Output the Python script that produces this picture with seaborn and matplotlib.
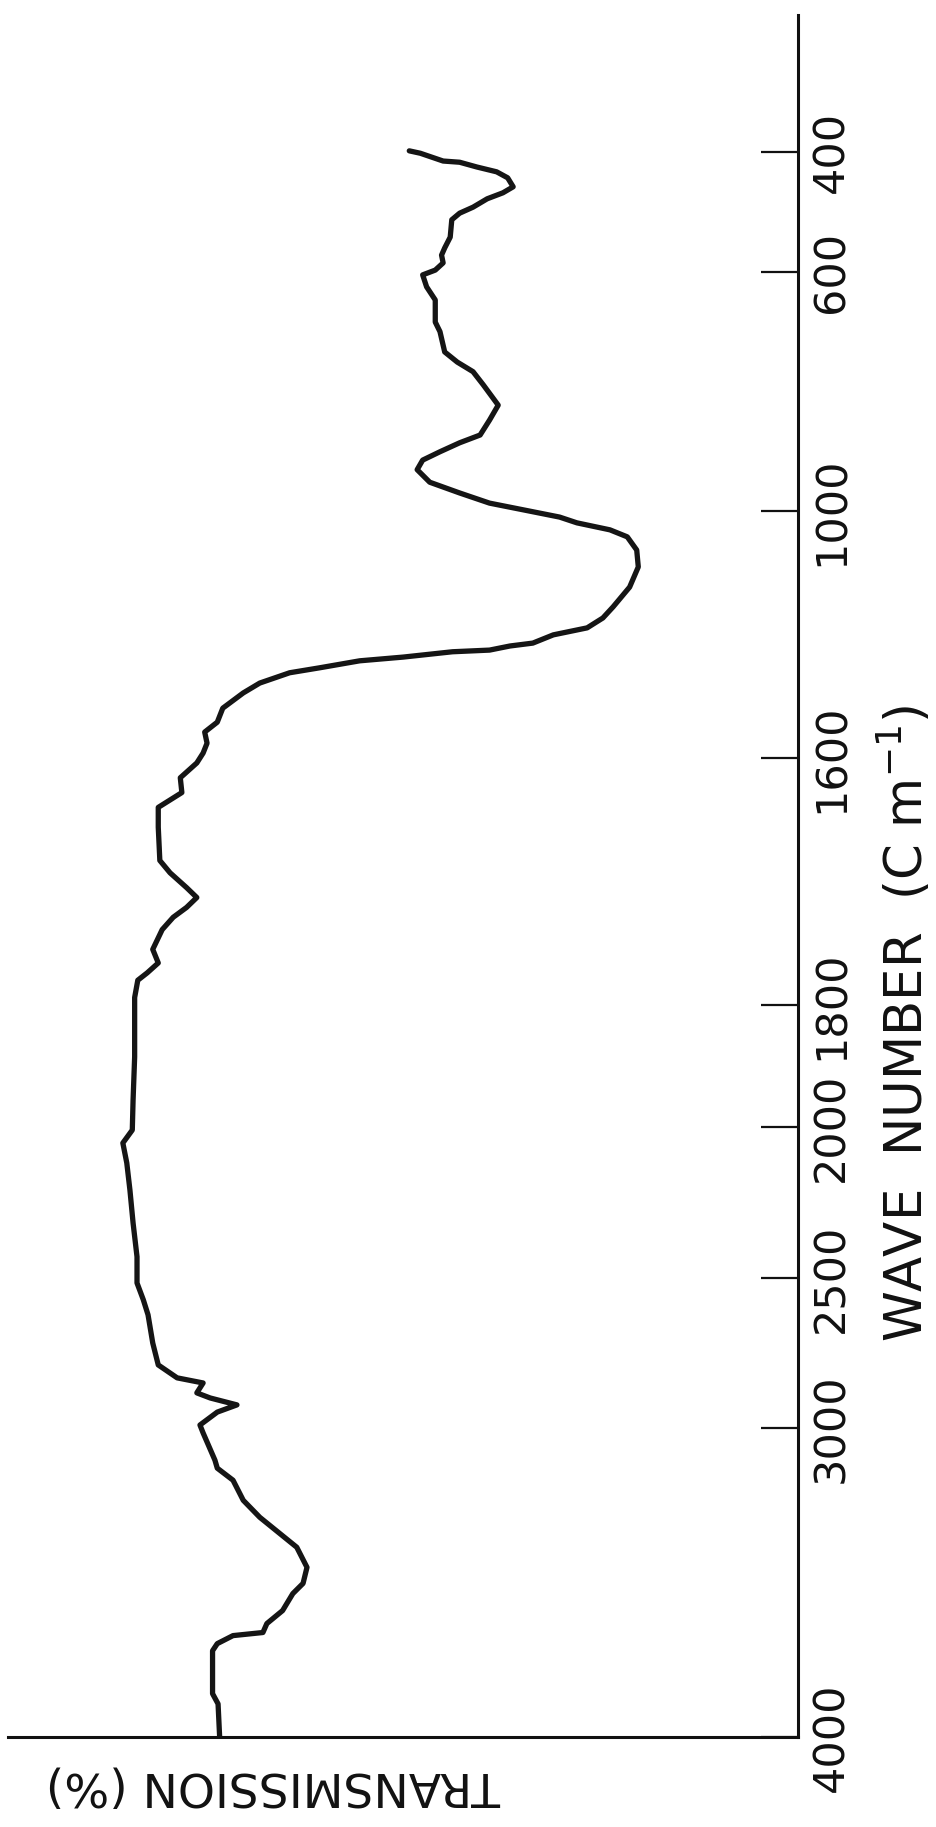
import numpy as np
import matplotlib
matplotlib.use("Agg")
import matplotlib.pyplot as plt
import seaborn as sns

# IR spectrum: wave number (cm-1) and transmission (%)
wave_number = [398, 402, 415, 417, 425, 433, 443, 458, 468, 478, 492, 502, 513, 542, 560, 572, 585, 597, 605,
               625, 647, 684, 700, 734, 751, 767, 789, 823, 848, 873, 886, 901, 915, 931, 952, 970, 987,
               998, 1015, 1029, 1046, 1063, 1095, 1136, 1185, 1233, 1260, 1284, 1301, 1321, 1328, 1338, 1342,
               1355, 1364, 1381, 1393, 1418, 1442, 1479, 1513, 1537, 1564, 1588,
               1604, 1616, 1628, 1640, 1656, 1683, 1693, 1705, 1713, 1721, 1729, 1739, 1755, 1766, 1774, 1780, 1794,
               1846, 1885, 1956,
               2010, 2053, 2119, 2209, 2318, 2430, 2517, 2573, 2623, 2717, 2790, 2833, 2850, 2883, 2900, 2923,
               2947, 2990,
               3016, 3104, 3130, 3169, 3234, 3289, 3386, 3451, 3503, 3536, 3591, 3633, 3662, 3672, 3698, 3721,
               3860, 3893, 4000]
transmission = [49.0, 47.6, 44.7, 42.6, 40.4, 37.9, 36.5, 35.8, 37.1, 39.1, 40.9, 42.6, 43.6, 43.8, 44.5, 44.9,
                44.7, 45.7, 47.3,
                46.8, 45.7, 45.7, 45.1, 44.5, 42.9, 40.9, 39.6, 37.7, 38.8, 40.0, 42.6, 45.1, 47.3, 48.0, 46.4,
                42.6, 38.8,
                34.6, 29.9, 27.7, 23.5, 21.3, 20.1, 19.9, 21.0, 23.1, 24.4, 26.4, 30.7, 33.3, 36.2, 38.8, 43.5,
                49.8, 55.3, 60.4, 64.2, 68.0, 70.1, 72.7, 73.4, 75.0, 74.7, 75.2,
                76.0, 78.1, 77.9, 80.9, 80.9, 80.7, 79.4, 77.3, 76.0, 77.3, 79.0, 80.4, 81.6, 80.9, 82.3, 83.5, 83.9,
                83.9, 83.9, 84.1,
                84.2, 85.4, 84.9, 84.5, 84.1, 83.6, 83.6, 82.8, 82.2, 81.6, 80.9, 78.5, 75.2, 76.0, 74.3, 70.9,
                73.4, 75.6,
                75.2, 73.7, 73.4, 71.4, 70.1, 68.0, 63.3, 62.0, 62.5, 63.8, 65.1, 67.1, 67.6, 71.4, 73.4, 74.0,
                74.0, 73.3, 73.1]

tick_values = [400, 600, 1000, 1600, 1800, 2000, 2500, 3000, 4000]
tick_labels = ['400', '600', '1000', '1600', '1800', '2000', '2500', '3000', '4000']

# the printed wave number axis is piecewise (the scale changes along it)
# scale_pos is the fraction of the axis height measured from the top
scale_wn = [172, 400, 600, 1000, 1600, 1800, 2000, 2500, 3000, 4000]
scale_pos = [0.0, 0.0796, 0.1492, 0.2880, 0.4315, 0.5749, 0.6458, 0.7334, 0.8206, 1.0]


def fwd(w):
    return np.interp(w, scale_wn, scale_pos)


def inv(p):
    return np.interp(p, scale_pos, scale_wn)


sns.set_theme(style="white")
plt.rcParams['font.family'] = ['DejaVu Sans']

fig = plt.figure(figsize=(9.36, 18.27), dpi=100)
ax = fig.add_axes([0.0085, 0.0493, 0.8441, 0.9425])

sns.lineplot(x=transmission, y=wave_number, sort=False, estimator=None,
             color='#151515', linewidth=3.8, ax=ax,
             solid_joinstyle='round', solid_capstyle='round')

ax.set_yscale('function', functions=(fwd, inv))
ax.set_ylim(4000, 172)
ax.set_xlim(100, -0.4)

for side in ['top', 'left']:
    ax.spines[side].set_visible(False)
for side in ['right', 'bottom']:
    ax.spines[side].set_color('#111111')
    ax.spines[side].set_linewidth(2.2)

ax.yaxis.tick_right()
ax.set_yticks(tick_values)
ax.set_yticklabels(tick_labels)
ax.tick_params(axis='y', direction='in', length=27, width=1.6, pad=9,
               labelsize=31, colors='#111111', right=True, left=False)
for lbl in ax.get_yticklabels():
    lbl.set_rotation(90)
    lbl.set_va('center')
ax.set_xticks([])
ax.set_xlabel('')
ax.set_ylabel('')

fig.text(0.967, 0.440, r"WAVE  NUMBER  (C m$^{-1}$)", rotation=90,
         ha='center', va='center', fontsize=37, color='#111111')
fig.text(0.292, 0.023, "TRANSMISSION (%)", rotation=180,
         ha='center', va='center', fontsize=34, color='#111111')

fig.savefig('out.png', dpi=100)
